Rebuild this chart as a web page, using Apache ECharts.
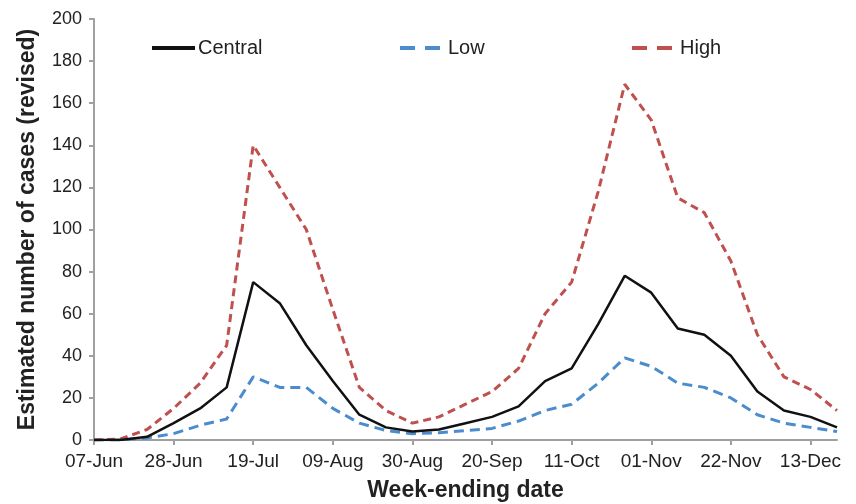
<!DOCTYPE html>
<html>
<head>
<meta charset="utf-8">
<script src="https://cdn.jsdelivr.net/npm/echarts@6/dist/echarts.min.js"></script>
<style>
html,body{margin:0;padding:0;background:#fff;}
#chart{width:856px;height:504px;}
</style>
</head>
<body>
<div id="chart"></div>
<script>
const weeks = ['07-Jun','14-Jun','21-Jun','28-Jun','05-Jul','12-Jul','19-Jul','26-Jul','02-Aug','09-Aug','16-Aug','23-Aug','30-Aug','06-Sep','13-Sep','20-Sep','27-Sep','04-Oct','11-Oct','18-Oct','25-Oct','01-Nov','08-Nov','15-Nov','22-Nov','29-Nov','06-Dec','13-Dec','20-Dec'];
const central = [0,0,1.5,8,15,25,75,65,45,28,12,6,4,5,8,11,16,28,34,55,78,70,53,50,40,23,14,11,6];
const low = [0,0,1,3,7,10,30,25,25,15,8,4.5,3,3.5,4.5,5.5,9,14,17,27,39,35,27,25,20,12,8,6,4];
const high = [0,0.5,5,15,27,45,140,120,100,62,25,14,8,11,17,23,34,60,75,118,169,152,115,108,85,50,30,24,14];
const yTicks = [0,20,40,60,80,100,120,140,160,180,200];

const FONT = "'Liberation Sans', Arial, sans-serif";
const chart = echarts.init(document.getElementById('chart'));
const SOLID_ICON = 'path://M0,0h43v4h-43z';
const DASH_ICON = 'path://M0,0h15v4h-15zM25,0h15v4h-15z';
const legendBase = {
  top: 38, padding: 0, itemHeight: 4, itemGap: 0,
  textStyle: {fontFamily: FONT, fontSize: 20, color: '#222', padding: [0, 0, 0, -2]}
};
const dashText = Object.assign({}, legendBase.textStyle, {padding: [0, 0, 0, 3]});
chart.setOption({
  animation: false,
  backgroundColor: '#fff',
  textStyle: {fontFamily: FONT},
  grid: {left: 94, right: 19, top: 19, bottom: 64, containLabel: false, outerBoundsMode: 'none'},
  legend: [
    Object.assign({}, legendBase, {left: 152, itemWidth: 43, data: [{name: 'Central', icon: SOLID_ICON}]}),
    Object.assign({}, legendBase, {left: 400, itemWidth: 40, textStyle: dashText, data: [{name: 'Low', icon: DASH_ICON}]}),
    Object.assign({}, legendBase, {left: 632, itemWidth: 40, textStyle: dashText, data: [{name: 'High', icon: DASH_ICON}]})
  ],
  xAxis: {
    type: 'category',
    data: weeks,
    boundaryGap: false,
    name: 'Week-ending date',
    nameLocation: 'middle',
    nameGap: 39,
    nameTextStyle: {fontFamily: FONT, fontSize: 23, fontWeight: 'bold', color: '#222'},
    axisLine: {lineStyle: {color: '#a0a0a0', width: 2}},
    axisTick: {interval: 2, length: 5, lineStyle: {color: '#a0a0a0', width: 2}},
    axisLabel: {interval: 2, margin: 12, fontSize: 19, color: '#222', fontFamily: FONT},
    splitLine: {show: false}
  },
  yAxis: {
    type: 'value',
    min: yTicks[0],
    max: yTicks[yTicks.length - 1],
    interval: yTicks[1] - yTicks[0],
    name: 'Estimated number of cases (revised)',
    nameLocation: 'middle',
    nameGap: 55,
    nameRotate: 90,
    nameTextStyle: {fontFamily: FONT, fontSize: 23, fontWeight: 'bold', color: '#222'},
    axisLine: {show: true, lineStyle: {color: '#a0a0a0', width: 2}},
    axisTick: {show: true, length: 5, lineStyle: {color: '#a0a0a0', width: 2}},
    axisLabel: {margin: 12, fontSize: 18, color: '#222', fontFamily: FONT},
    splitLine: {show: false}
  },
  series: [
    {name: 'Central', type: 'line', data: central, symbol: 'none', z: 3,
     lineStyle: {color: '#111', width: 2.5}, itemStyle: {color: '#111'}},
    {name: 'Low', type: 'line', data: low, symbol: 'none', z: 2,
     lineStyle: {color: '#4a8ccc', width: 3, type: [10, 6]}, itemStyle: {color: '#4a8ccc'}},
    {name: 'High', type: 'line', data: high, symbol: 'none', z: 2,
     lineStyle: {color: '#c0504d', width: 3, type: [8, 5]}, itemStyle: {color: '#c0504d'}}
  ]
});
</script>
</body>
</html>
